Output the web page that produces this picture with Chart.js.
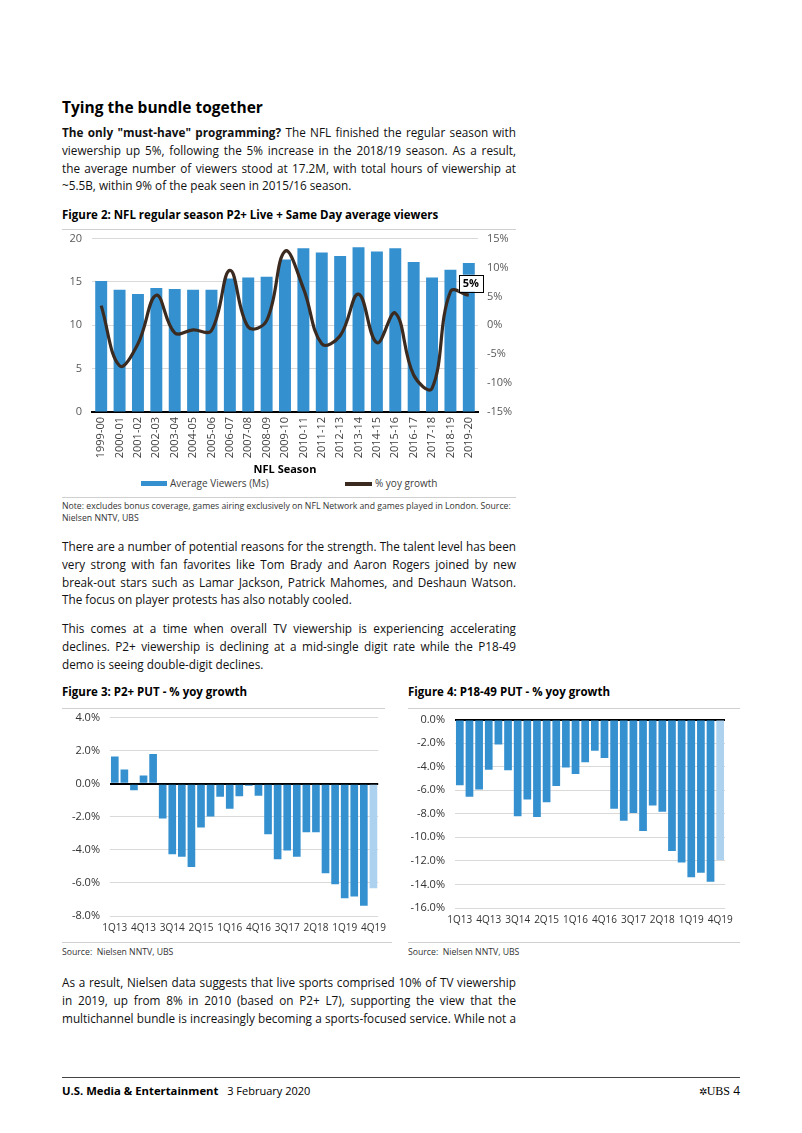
<!DOCTYPE html>
<html><head><meta charset="utf-8">
<script src="https://cdn.jsdelivr.net/npm/chart.js@4"></script>
<style>
body{margin:0;width:802px;height:1133px;background:#fff;position:relative;font-family:"Open Sans",sans-serif;color:#000;overflow:hidden}
.a{position:absolute}
.p{position:absolute;left:62px;width:454px;font-size:11.75px;line-height:17.8px;color:#111}
.p div{white-space:nowrap}
.p .j{text-align:justify;text-align-last:justify}
.cap{position:absolute;font-size:11.5px;font-weight:bold;line-height:14px;white-space:nowrap}
.hr{position:absolute;height:1px;background:#d0d0d0}
.small{position:absolute;font-size:8.7px;line-height:12px;color:#333;white-space:nowrap}
canvas{position:absolute}
.leg{position:absolute;font-size:10px;color:#404040;line-height:14px;white-space:nowrap}
.sw{position:absolute}
</style></head><body>
<div class="a" style="left:62px;top:96px;font-size:15.5px;font-weight:bold;line-height:22px;white-space:nowrap">Tying the bundle together</div>
<div class="p" style="top:124px">
<div class="j"><b>The only "must-have" programming?</b> The NFL finished the regular season with</div>
<div class="j">viewership up 5%, following the 5% increase in the 2018/19 season. As a result,</div>
<div class="j">the average number of viewers stood at 17.2M, with total hours of viewership at</div>
<div>~5.5B, within 9% of the peak seen in 2015/16 season.</div>
</div>
<div class="cap" style="left:62px;top:208px">Figure 2: NFL regular season P2+ Live + Same Day average viewers</div>
<div class="hr" style="left:62px;top:229px;width:454px"></div>
<canvas id="c1" width="454" height="254" style="left:62px;top:222px"></canvas>
<div class="sw" style="left:141px;top:481px;width:26px;height:5px;background:#3590cf"></div>
<div class="leg" style="left:170px;top:476px">Average Viewers (Ms)</div>
<div class="sw" style="left:345px;top:482px;width:27px;height:4px;background:#3b2a20"></div>
<div class="leg" style="left:375px;top:476px">% yoy growth</div>
<div class="hr" style="left:62px;top:497px;width:454px"></div>
<div class="small" style="left:62px;top:500px">Note: excludes bonus coverage, games airing exclusively on NFL Network and games played in London. Source:<br>Nielsen NNTV, UBS</div>
<div class="p" style="top:538px">
<div class="j">There are a number of potential reasons for the strength. The talent level has been</div>
<div class="j">very strong with fan favorites like Tom Brady and Aaron Rogers joined by new</div>
<div class="j">break-out stars such as Lamar Jackson, Patrick Mahomes, and Deshaun Watson.</div>
<div>The focus on player protests has also notably cooled.</div>
</div>
<div class="p" style="top:620px">
<div class="j">This comes at a time when overall TV viewership is experiencing accelerating</div>
<div class="j">declines. P2+ viewership is declining at a mid-single digit rate while the P18-49</div>
<div>demo is seeing double-digit declines.</div>
</div>
<div class="cap" style="left:62px;top:685px">Figure 3: P2+ PUT - % yoy growth</div>
<div class="cap" style="left:408px;top:685px">Figure 4: P18-49 PUT - % yoy growth</div>
<div class="hr" style="left:62px;top:708px;width:323px"></div>
<div class="hr" style="left:408px;top:708px;width:332px"></div>
<canvas id="c2" width="330" height="240" style="left:62px;top:701px"></canvas>
<canvas id="c3" width="332" height="238" style="left:408px;top:703px"></canvas>
<div class="hr" style="left:62px;top:942px;width:330px"></div>
<div class="hr" style="left:408px;top:942px;width:332px"></div>
<div class="small" style="left:62px;top:946px">Source:&nbsp; Nielsen NNTV, UBS</div>
<div class="small" style="left:408px;top:946px">Source:&nbsp; Nielsen NNTV, UBS</div>
<div class="p" style="top:974px">
<div class="j">As a result, Nielsen data suggests that live sports comprised 10% of TV viewership</div>
<div class="j">in 2019, up from 8% in 2010 (based on P2+ L7), supporting the view that the</div>
<div class="j">multichannel bundle is increasingly becoming a sports-focused service. While not a</div>
</div>
<div class="hr" style="left:62px;top:1077px;width:678px;background:#444"></div>
<div class="a" style="left:62px;top:1083px;font-size:11.3px;line-height:16px;white-space:nowrap"><b>U.S. Media &amp; Entertainment</b>&nbsp;&nbsp; <span style="font-size:11px">3 February 2020</span></div>
<div class="a" style="right:62px;top:1083px;font-size:12px;line-height:16px;white-space:nowrap"><span style="font-size:10px">✲</span><span style="font-family:'Liberation Serif',serif">UBS</span>&nbsp;4</div>
<script>
// ---- Figure 2 data ----
const seasons=['1999-00','2000-01','2001-02','2002-03','2003-04','2004-05','2005-06','2006-07','2007-08','2008-09','2009-10','2010-11','2011-12','2012-13','2013-14','2014-15','2015-16','2016-17','2017-18','2018-19','2019-20'];
const avgViewers=[15.1,14.1,13.6,14.3,14.2,14.1,14.1,15.4,15.5,15.6,17.6,18.9,18.4,18.0,19.0,18.5,18.9,17.3,15.5,16.4,17.2];
const yoyGrowth=[3.4,-7.0,-3.2,5.2,-1.3,-0.8,-0.9,9.5,-0.3,0.8,12.8,6.4,-3.2,-1.8,5.4,-3.0,2.1,-8.6,-10.9,5.8,5.2];
// ---- Figure 3 / 4 data ----
const quarters=['1Q13','2Q13','3Q13','4Q13','1Q14','2Q14','3Q14','4Q14','1Q15','2Q15','3Q15','4Q15','1Q16','2Q16','3Q16','4Q16','1Q17','2Q17','3Q17','4Q17','1Q18','2Q18','3Q18','4Q18','1Q19','2Q19','3Q19','4Q19'];
const p2Growth=[1.65,0.86,-0.4,0.5,1.8,-2.1,-4.26,-4.42,-5.04,-2.64,-1.98,-0.78,-1.52,-0.76,-0.12,-0.72,-3.06,-4.56,-4.04,-4.42,-2.94,-2.94,-5.42,-6.08,-6.92,-6.82,-7.38,-6.32];
const p1849Growth=[-5.58,-6.56,-5.94,-4.25,-2.11,-4.31,-8.2,-6.79,-8.28,-7.01,-5.63,-4.06,-4.62,-3.63,-2.65,-3.27,-7.58,-8.59,-7.94,-9.46,-7.3,-7.83,-11.15,-12.14,-13.38,-13.01,-13.77,-11.92];
const viewersLabel='Average Viewers (Ms)';
const growthLabel='% yoy growth';

Chart.defaults.font.family='"Open Sans", sans-serif';
Chart.defaults.animation=false;
const BLUE='#3590cf', LIGHT='#acd2ef', GRID='#d9d9d9';

const lastLabel={id:'lastLabel',afterDatasetsDraw(chart){
  const meta=chart.getDatasetMeta(0);const p=meta.data[meta.data.length-1];
  const ctx=chart.ctx;ctx.save();
  const txt=Math.round(yoyGrowth[yoyGrowth.length-1])+'%';
  ctx.font='bold 11px "Open Sans"';
  const w=24,h=17,cx=p.x+2,cy=p.y-12;
  ctx.fillStyle='#fff';ctx.fillRect(cx-w/2,cy-h/2,w,h);
  ctx.strokeStyle='#000';ctx.lineWidth=1;ctx.strokeRect(Math.round(cx-w/2)+0.5,Math.round(cy-h/2)+0.5,w,h);
  ctx.fillStyle='#000';ctx.textAlign='center';ctx.textBaseline='middle';ctx.fillText(txt,cx,cy+1);
  ctx.restore();}};

new Chart(document.getElementById('c1'),{
  data:{labels:seasons,datasets:[
    {type:'line',label:growthLabel,data:yoyGrowth,yAxisID:'y2',borderColor:'#3b2a20',borderWidth:3.2,tension:0.4,pointRadius:0,order:0},
    {type:'bar',label:viewersLabel,data:avgViewers,yAxisID:'y',backgroundColor:BLUE,barPercentage:0.65,categoryPercentage:1,order:1}
  ]},
  options:{responsive:false,maintainAspectRatio:false,
    layout:{padding:{top:0,left:0,right:0,bottom:0}},
    plugins:{legend:{display:false},tooltip:{enabled:false}},
    scales:{
      x:{grid:{display:false,drawTicks:false},border:{display:true,color:'#000',width:2},
         ticks:{minRotation:90,maxRotation:90,autoSkip:false,color:'#404040',font:{size:11},padding:5},
         title:{display:true,text:'NFL Season',font:{size:11,weight:'bold'},color:'#000',padding:0},
         afterFit(s){s.height=64;}},
      y:{position:'left',min:0,max:20,ticks:{stepSize:5,color:'#595959',font:{size:11},padding:10},
         grid:{color:GRID,drawTicks:false},border:{display:false},afterFit(s){s.width=30;}},
      y2:{position:'right',min:-15,max:15,ticks:{stepSize:5,callback:v=>v+'%',color:'#595959',font:{size:11},padding:9},
         grid:{display:false,drawTicks:false},border:{display:false},afterFit(s){s.width=38;}}
    }},
  plugins:[lastLabel]
});

function quarterChart(id,data,min,max,yw,pad,xh){
  return new Chart(document.getElementById(id),{
    type:'bar',
    data:{labels:quarters,datasets:[{data:data,backgroundColor:data.map((v,i)=>i===data.length-1?LIGHT:BLUE),barPercentage:0.8,categoryPercentage:1}]},
    options:{responsive:false,maintainAspectRatio:false,
      layout:{padding:pad},
      plugins:{legend:{display:false},tooltip:{enabled:false}},
      scales:{
        x:{grid:{display:false,drawTicks:false},border:{display:false},
           ticks:{autoSkip:false,maxRotation:0,minRotation:0,color:'#333',font:{size:10},padding:6,
             callback:(v,i)=>i%3===0?quarters[i]:''},
           afterFit(s){s.height=xh;}},
        y:{min:min,max:max,ticks:{stepSize:2,color:'#333',font:{size:11},padding:10,callback:v=>v.toFixed(1)+'%'},
           grid:{drawTicks:false,color:c=>c.tick.value===0?'#000':GRID,lineWidth:c=>c.tick.value===0?2:1},
           border:{display:false},afterFit(s){s.width=yw;}}
      }}
  });
}
quarterChart('c2',p2Growth,-8,4,48,{top:0,right:7},25);
quarterChart('c3',p1849Growth,-16,0,47,{top:4,right:15},33);
</script>
</body></html>
